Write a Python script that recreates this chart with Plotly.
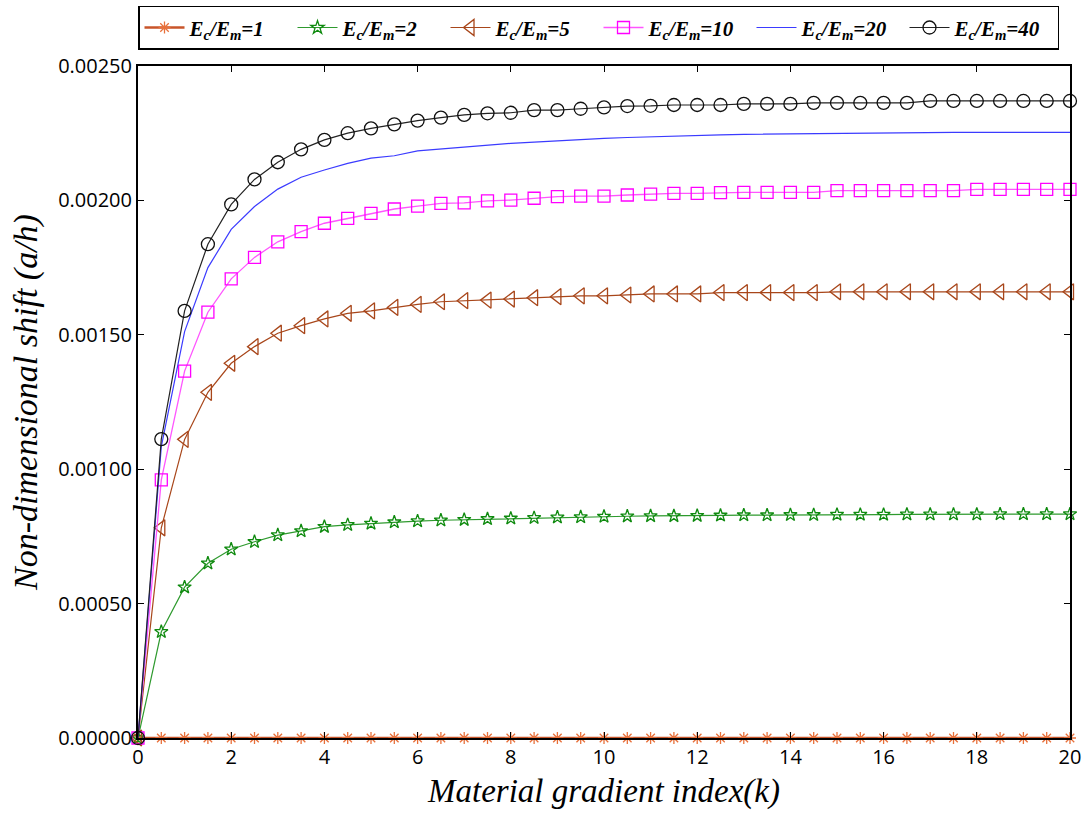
import plotly.graph_objects as go

# Material gradient index k
k = [i * 0.5 for i in range(41)]

# Non-dimensional shift (a/h) for each modulus ratio Ec/Em
shift_r1 = [0.0] * 41

shift_r2 = [0.0, 0.000395, 0.000561, 0.000650, 0.000702, 0.000730, 0.000755, 0.000770,
            0.000786, 0.000793, 0.000798, 0.000803, 0.000807, 0.000810, 0.000812, 0.000815,
            0.000817, 0.000819, 0.000821, 0.000822, 0.000824, 0.000825, 0.000826, 0.000826,
            0.000827, 0.000828, 0.000829, 0.000829, 0.000830, 0.000830, 0.000831, 0.000831,
            0.000831, 0.000832, 0.000832, 0.000832, 0.000832, 0.000833, 0.000833, 0.000833,
            0.000833]

shift_r5 = [0.0, 0.000782, 0.001111, 0.001286, 0.001394, 0.001456, 0.001506, 0.001534,
            0.001559, 0.001580, 0.001589, 0.001602, 0.001613, 0.001623, 0.001627, 0.001629,
            0.001633, 0.001638, 0.001642, 0.001645, 0.001645, 0.001648, 0.001652, 0.001652,
            0.001652, 0.001657, 0.001657, 0.001657, 0.001657, 0.001657, 0.001660, 0.001660,
            0.001660, 0.001660, 0.001660, 0.001660, 0.001660, 0.001660, 0.001660, 0.001660,
            0.001660]

shift_r10 = [0.0, 0.000960, 0.001365, 0.001584, 0.001708, 0.001788, 0.001846, 0.001884,
             0.001915, 0.001933, 0.001952, 0.001968, 0.001979, 0.001989, 0.001991, 0.001998,
             0.002001, 0.002008, 0.002014, 0.002016, 0.002016, 0.002020, 0.002023, 0.002026,
             0.002026, 0.002029, 0.002030, 0.002030, 0.002030, 0.002030, 0.002036, 0.002036,
             0.002036, 0.002036, 0.002036, 0.002036, 0.002041, 0.002041, 0.002041, 0.002041,
             0.002041]

shift_r20 = [0.0, 0.001084, 0.001512, 0.001750, 0.001892, 0.001977, 0.002042, 0.002086,
             0.002113, 0.002138, 0.002157, 0.002166, 0.002184, 0.002191, 0.002200, 0.002206,
             0.002212, 0.002217, 0.002222, 0.002227, 0.002231, 0.002234, 0.002237, 0.002240,
             0.002243, 0.002244, 0.002246, 0.002247, 0.002248, 0.002249, 0.002250, 0.002251,
             0.002252, 0.002253, 0.002253, 0.002253, 0.002253, 0.002253, 0.002253, 0.002253,
             0.002253]

shift_r40 = [0.0, 0.001112, 0.001589, 0.001837, 0.001985, 0.002078, 0.002142, 0.002190,
             0.002225, 0.002250, 0.002268, 0.002283, 0.002297, 0.002308, 0.002318, 0.002324,
             0.002326, 0.002336, 0.002336, 0.002341, 0.002346, 0.002351, 0.002352, 0.002355,
             0.002355, 0.002355, 0.002359, 0.002359, 0.002359, 0.002363, 0.002363, 0.002363,
             0.002363, 0.002363, 0.002370, 0.002370, 0.002370, 0.002370, 0.002370, 0.002370,
             0.002370]

ratio_labels = ["1", "2", "5", "10", "20", "40"]

series = [shift_r1, shift_r2, shift_r5, shift_r10, shift_r20, shift_r40]
line_colors = ["#C8552A", "#2E9A2E", "#A8461A", "#FF55FF", "#3B3BFF", "#222222"]
marker_colors = ["#E8703A", "#0E8A0E", "#A8461A", "#FF00FF", "#3B3BFF", "#111111"]
symbols = ["asterisk-open", "star-open", "triangle-left-open", "square-open", None, "circle-open"]
sizes = [10, 10, 14, 12, 0, 13]
widths = [2.5, 1.2, 1.2, 1.3, 1.2, 1.2]

serif = "Liberation Serif, Times New Roman, serif"

fig = go.Figure()
for vals, lab, lc, mc, sym, sz, w in zip(series, ratio_labels, line_colors, marker_colors,
                                         symbols, sizes, widths):
    name = "<b><i>E<sub>c</sub>/E<sub>m</sub>=" + lab + "</i></b>"
    if sym is None:
        fig.add_trace(go.Scatter(x=k, y=vals, mode="lines", name=name,
                                 line=dict(color=lc, width=w), cliponaxis=False))
    else:
        fig.add_trace(go.Scatter(x=k, y=vals, mode="lines+markers", name=name,
                                 line=dict(color=lc, width=w),
                                 marker=dict(symbol=sym, size=sz, color=mc,
                                             line=dict(color=mc, width=1.3)),
                                 cliponaxis=False))

fig.update_layout(
    width=1086, height=819,
    margin=dict(l=138, r=16, t=66, b=81, autoexpand=False),
    paper_bgcolor="white", plot_bgcolor="white",
    showlegend=True,
    legend=dict(
        orientation="h", x=0, xanchor="left", y=1.024, yanchor="bottom",
        bordercolor="black", borderwidth=1.5, bgcolor="white",
        font=dict(family=serif, size=21, color="black"),
        entrywidth=98, entrywidthmode="pixels",
        itemwidth=40, tracegroupgap=0,
    ),
    xaxis=dict(
        range=[0, 20], tickmode="array", tickvals=list(range(0, 21, 2)),
        ticks="inside", ticklen=6, tickcolor="black",
        showline=True, linecolor="black", linewidth=2, mirror="ticks",
        showgrid=False, zeroline=False,
        tickfont=dict(family="Open Sans", size=20, color="black"),
        title=dict(text="<i>Material gradient index(k)</i>",
                   font=dict(family=serif, size=33, color="black"),
                   standoff=10),
    ),
    yaxis=dict(
        range=[0, 0.0025], tickmode="array",
        tickvals=[0, 0.0005, 0.001, 0.0015, 0.002, 0.0025],
        ticktext=["0.00000", "0.00050", "0.00100", "0.00150", "0.00200", "0.00250"],
        ticks="inside", ticklen=6, tickcolor="black",
        showline=True, linecolor="black", linewidth=2, mirror="ticks",
        showgrid=False, zeroline=False,
        tickfont=dict(family="Open Sans", size=20, color="black"),
        title=dict(text="<i>Non-dimensional shift (a/h)</i>",
                   font=dict(family=serif, size=34, color="black"),
                   standoff=10),
    ),
)

fig.write_html("out.html")
